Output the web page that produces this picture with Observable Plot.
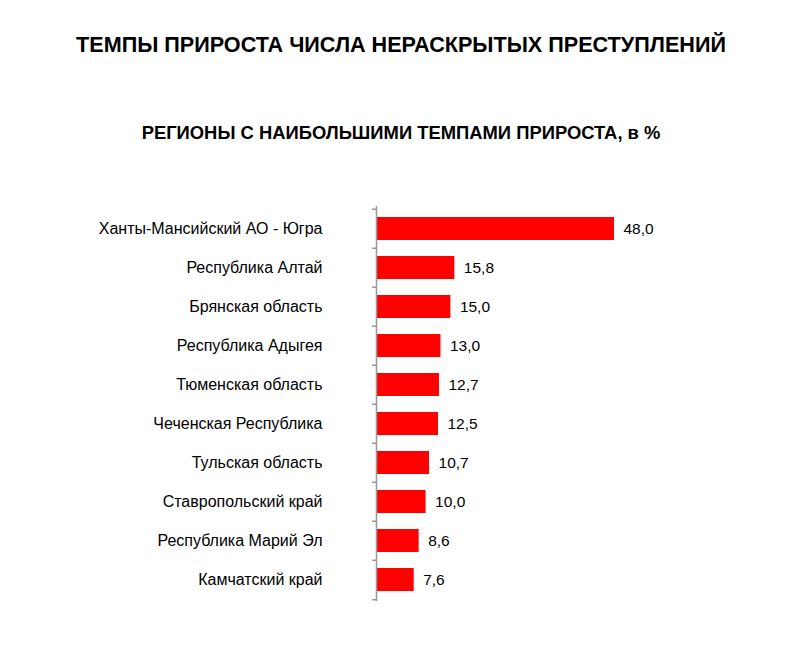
<!DOCTYPE html>
<html>
<head>
<meta charset="utf-8">
<script src="https://cdn.jsdelivr.net/npm/d3@7"></script>
<script src="https://cdn.jsdelivr.net/npm/@observablehq/plot@0.6"></script>
<style>
  body { margin: 0; background: #fff; font-family: "Liberation Sans", Arial, sans-serif; }
  #title { height: 90px; line-height: 90px; text-align: center; font-weight: bold; font-size: 21.6px; color: #000; }
  #subtitle { height: 86px; line-height: 86px; text-align: center; font-weight: bold; font-size: 18.4px; color: #000; }
</style>
</head>
<body>
<div id="title">ТЕМПЫ ПРИРОСТА ЧИСЛА НЕРАСКРЫТЫХ ПРЕСТУПЛЕНИЙ</div>
<div id="subtitle">РЕГИОНЫ С НАИБОЛЬШИМИ ТЕМПАМИ ПРИРОСТА, в %</div>
<div id="chart"></div>
<script>
const regions = [
  "Ханты-Мансийский АО - Югра",
  "Республика Алтай",
  "Брянская область",
  "Республика Адыгея",
  "Тюменская область",
  "Чеченская Республика",
  "Тульская область",
  "Ставропольский край",
  "Республика Марий Эл",
  "Камчатский край"
];
const values = [48.0, 15.8, 15.0, 13.0, 12.7, 12.5, 10.7, 10.0, 8.6, 7.6];

const data = regions.map((r, i) => ({region: r, value: values[i]}));
const fmt = v => v.toFixed(1).replace(".", ",");

const marginTop = 30, marginBottom = 20, innerH = 395;
const step = innerH / regions.length;

const chart = Plot.plot({
  width: 802,
  height: marginTop + innerH + marginBottom,
  marginTop, marginBottom,
  marginLeft: 376,
  marginRight: 188,
  style: { fontFamily: "'Liberation Sans', Arial, sans-serif", fontSize: "16px", color: "#000", background: "#fff" },
  x: { domain: [0, 48], axis: null },
  y: { domain: regions, paddingInner: 0.42, paddingOuter: 0.21, label: null },
  marks: [
    Plot.barX(data, { y: "region", x: "value", fill: "#ff0000" }),
    Plot.text(data, { y: "region", x: "value", text: d => fmt(d.value), textAnchor: "start", dx: 9, fontSize: 15.5, fill: "#000" }),
    Plot.ruleX([0], { stroke: "#999", strokeWidth: 1.5 }),
    Plot.ruleY(regions, { y: d => d, x1: -0.8, x2: 0, dy: -step / 2, stroke: "#999", strokeWidth: 1.5 }),
    Plot.ruleY(regions.slice(-1), { y: d => d, x1: -0.8, x2: 0, dy: step / 2, stroke: "#999", strokeWidth: 1.5 }),
    Plot.axisY({ tickSize: 0, tickPadding: 54, fontSize: 16, label: null })
  ]
});
document.getElementById("chart").appendChild(chart);
</script>
</body>
</html>
